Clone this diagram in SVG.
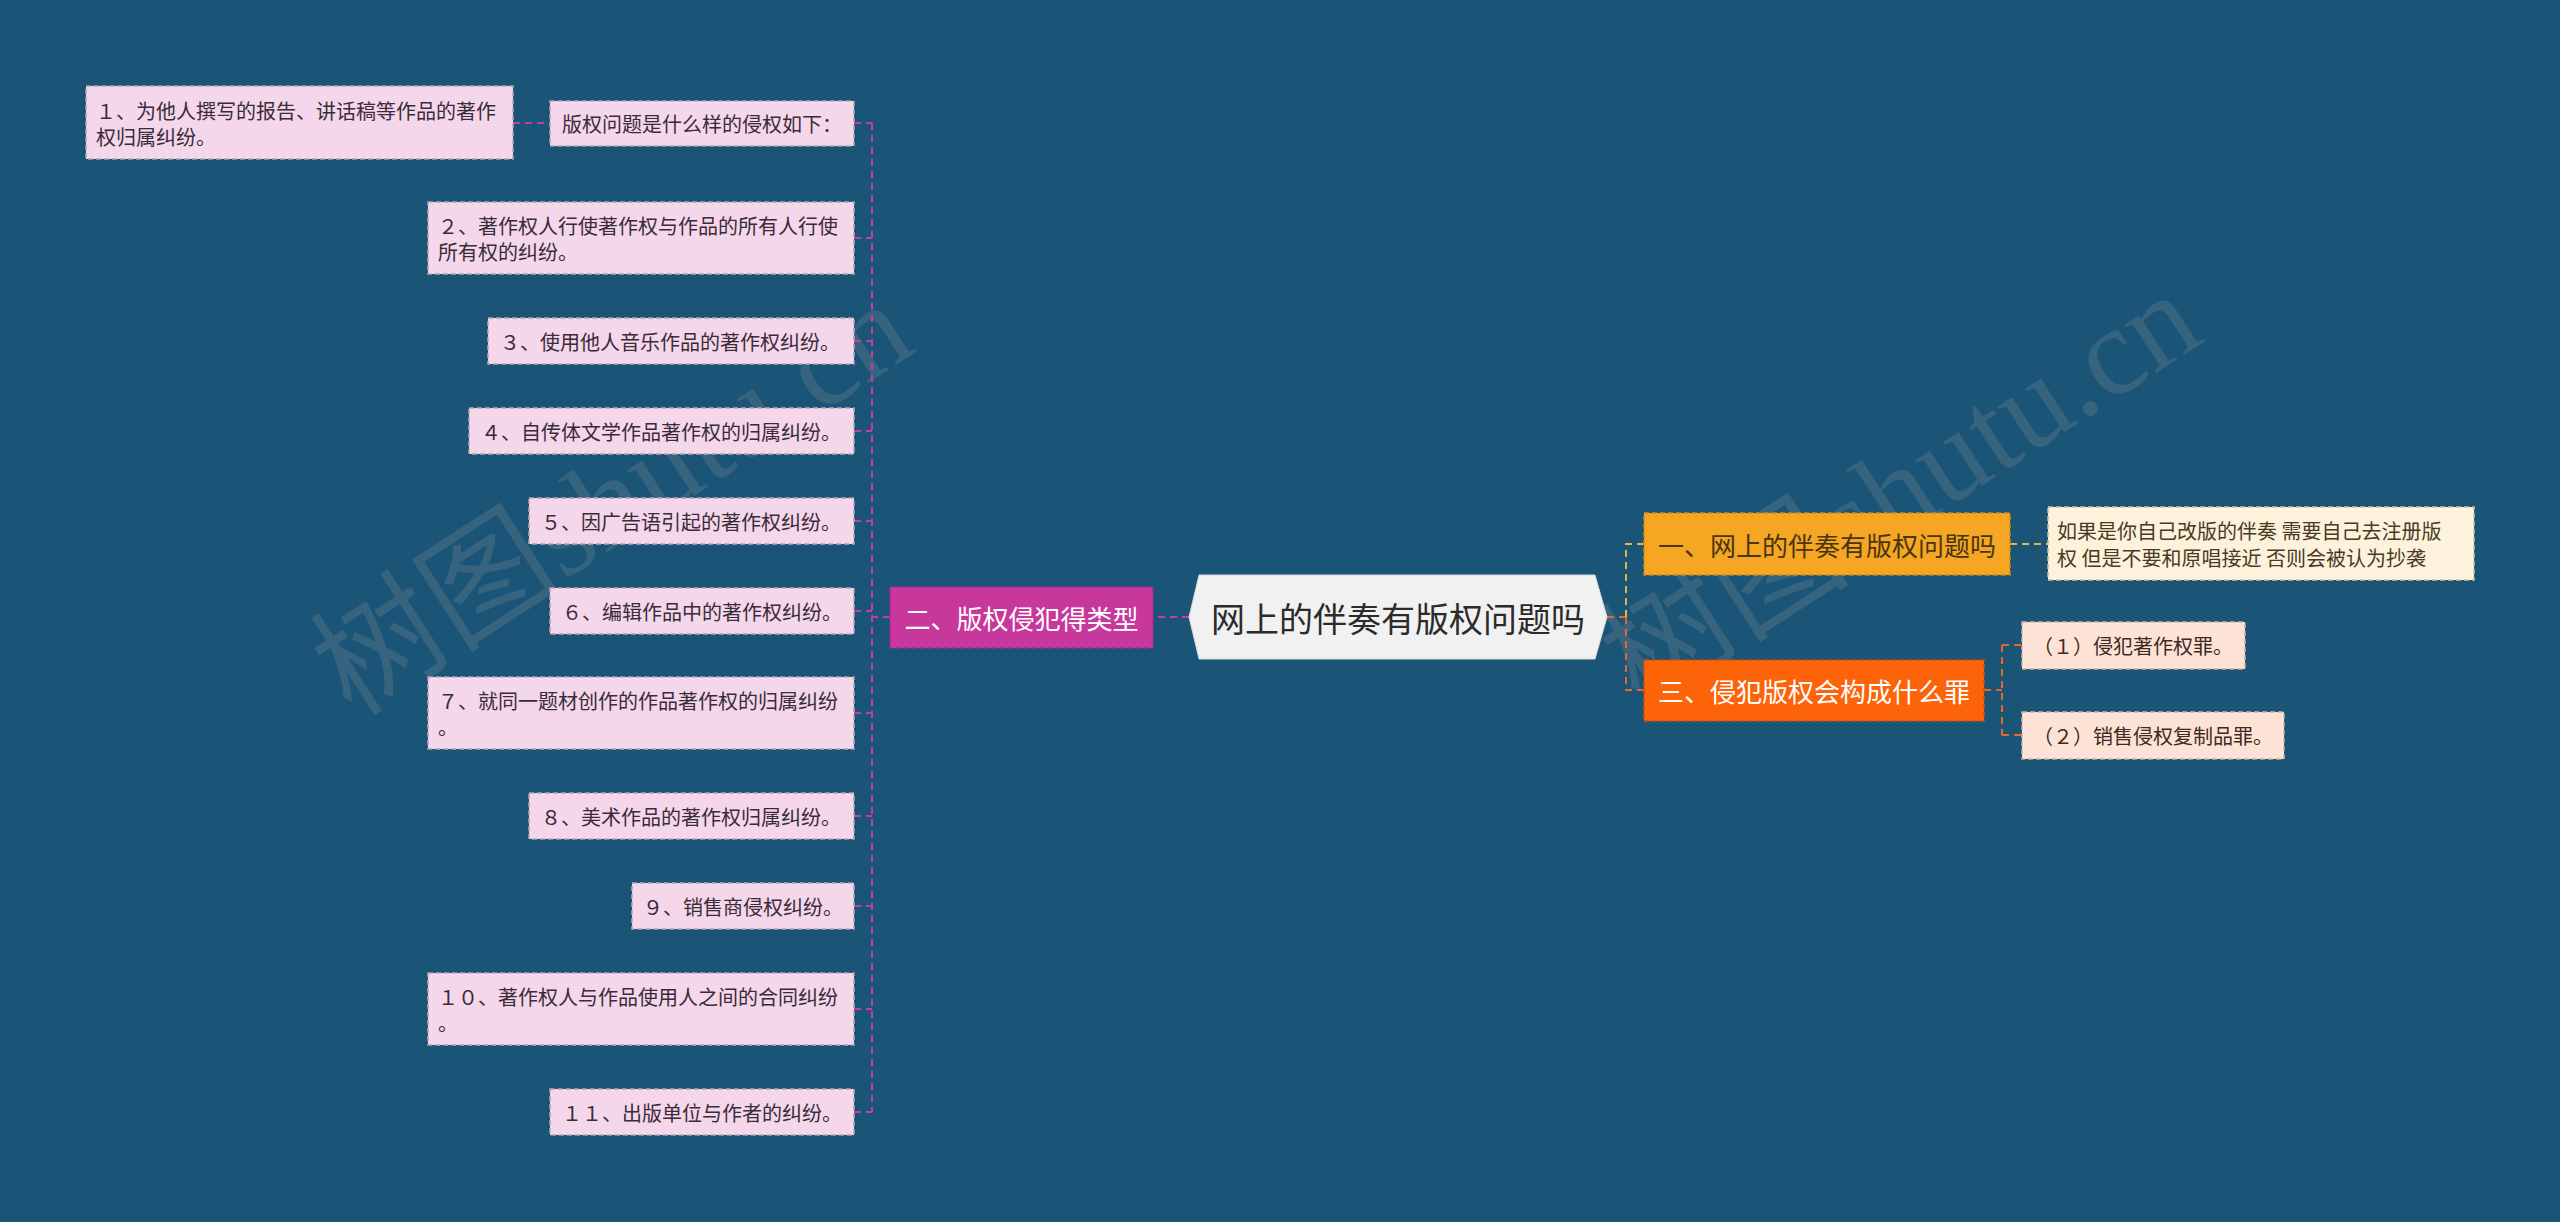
<svg xmlns="http://www.w3.org/2000/svg" width="2560" height="1222" viewBox="0 0 2560 1222">
<style>
text{font-family:"Noto Sans CJK SC","Noto Sans",sans-serif;dominant-baseline:central}
.leaf{fill:#f4d7ea;stroke:#b9a2b6;stroke-width:1.5;stroke-dasharray:5 3}
.lt{font-size:20px;fill:#3a2b38}
.cm{fill:none;stroke:#c63d9c;stroke-width:2;stroke-dasharray:7 5}
.cy{fill:none;stroke:#e0b542;stroke-width:2;stroke-dasharray:7 5}
.co{fill:none;stroke:#e2692d;stroke-width:2;stroke-dasharray:7 5}
.wm{font-family:"Liberation Serif",serif;font-size:126px;fill:#9a9a9a;opacity:0.22;dominant-baseline:alphabetic}
</style>
<rect width="2560" height="1222" fill="#1a5477"/>
<text class="wm" transform="translate(352,718) rotate(-33)"><tspan style="font-family:'Noto Sans CJK SC',serif">树图</tspan>shutu.cn</text>
<text class="wm" transform="translate(1640,708) rotate(-33)"><tspan style="font-family:'Noto Sans CJK SC',serif">树图</tspan>shutu.cn</text>
<g id="connectors">
<path class="cm" d="M1189 617H1153M890 617H872M872 123V1112M854 123H872M513 123H550M854 238H872M854 341H872M854 431H872M854 521H872M854 611H872M854 713H872M854 816H872M854 906H872M854 1009H872M854 1112H872"/>
<path class="co" d="M1607 617H1626M1626 617V690H1644"/>
<path class="cy" d="M1626 617V544H1644M2010 544H2049"/>
<path class="co" d="M1984 690H2002M2002 645V735M2002 645H2023M2002 735H2023"/>
</g>
<g id="center">
<polygon points="1189,617 1199,575 1595,575 1607,617 1595,659 1199,659" fill="#f1f1f1" stroke="#d8d8d8" stroke-width="1"/>
<text x="1398" y="617" text-anchor="middle" font-size="34" fill="#2b2b2b">网上的伴奏有版权问题吗</text>
</g>
<g id="b2">
<rect x="890" y="587" width="263" height="61" fill="#c8389c" stroke="#a82a82" stroke-width="1.5" stroke-dasharray="5 3"/>
<text x="1021.5" y="617" text-anchor="middle" font-size="26" fill="#ffffff">二、版权侵犯得类型</text>
</g>
<g id="n0"><rect class="leaf" x="550" y="101" width="304" height="45"/><text class="lt" x="562" y="123">版权问题是什么样的侵权如下：</text></g>
<g id="n1"><rect class="leaf" x="86" y="86" width="427" height="73"/><text class="lt" x="96" y="110">１、为他人撰写的报告、讲话稿等作品的著作</text><text class="lt" x="96" y="136">权归属纠纷。</text></g>
<g id="n2"><rect class="leaf" x="428" y="202" width="426" height="72"/><text class="lt" x="438" y="225">２、著作权人行使著作权与作品的所有人行使</text><text class="lt" x="438" y="251">所有权的纠纷。</text></g>
<g id="n3"><rect class="leaf" x="488" y="318" width="366" height="46"/><text class="lt" x="500" y="341">３、使用他人音乐作品的著作权纠纷。</text></g>
<g id="n4"><rect class="leaf" x="469" y="408" width="385" height="46"/><text class="lt" x="481" y="431">４、自传体文学作品著作权的归属纠纷。</text></g>
<g id="n5"><rect class="leaf" x="529" y="498" width="325" height="46"/><text class="lt" x="541" y="521">５、因广告语引起的著作权纠纷。</text></g>
<g id="n6"><rect class="leaf" x="550" y="588" width="304" height="46"/><text class="lt" x="562" y="611">６、编辑作品中的著作权纠纷。</text></g>
<g id="n7"><rect class="leaf" x="428" y="677" width="426" height="72"/><text class="lt" x="438" y="700">７、就同一题材创作的作品著作权的归属纠纷</text><text class="lt" x="438" y="726">。</text></g>
<g id="n8"><rect class="leaf" x="529" y="793" width="325" height="46"/><text class="lt" x="541" y="816">８、美术作品的著作权归属纠纷。</text></g>
<g id="n9"><rect class="leaf" x="632" y="883" width="222" height="46"/><text class="lt" x="643" y="906">９、销售商侵权纠纷。</text></g>
<g id="n10"><rect class="leaf" x="428" y="973" width="426" height="72"/><text class="lt" x="438" y="996">１０、著作权人与作品使用人之间的合同纠纷</text><text class="lt" x="438" y="1022">。</text></g>
<g id="n11"><rect class="leaf" x="550" y="1089" width="304" height="46"/><text class="lt" x="562" y="1112">１１、出版单位与作者的纠纷。</text></g>
<g id="b1">
<rect x="1644" y="513" width="366" height="62" fill="#f5a623" stroke="#c98a1a" stroke-width="1.5" stroke-dasharray="5 3"/>
<text x="1658" y="544" font-size="26" fill="#4a3510">一、网上的伴奏有版权问题吗</text>
</g>
<g id="r1">
<rect x="2048" y="507" width="426" height="73" fill="#fdf2dc" stroke="#cdbf9f" stroke-width="1.5" stroke-dasharray="5 3"/>
<text x="2057" y="530" font-size="20" fill="#4a3a22">如果是你自己改版的伴奏 需要自己去注册版</text>
<text x="2057" y="557" font-size="20" fill="#4a3a22">权 但是不要和原唱接近 否则会被认为抄袭</text>
</g>
<g id="b3">
<rect x="1644" y="660" width="340" height="61" fill="#fd6309" stroke="#d24f05" stroke-width="1.5" stroke-dasharray="5 3"/>
<text x="1658" y="690" font-size="26" fill="#ffffff">三、侵犯版权会构成什么罪</text>
</g>
<g id="r31"><rect x="2022" y="622" width="223" height="47" fill="#fde3d6" stroke="#cdb1a3" stroke-width="1.5" stroke-dasharray="5 3"/><text x="2033" y="645" font-size="20" fill="#3e2a22">（１）侵犯著作权罪。</text></g>
<g id="r32"><rect x="2022" y="712" width="262" height="47" fill="#fde3d6" stroke="#cdb1a3" stroke-width="1.5" stroke-dasharray="5 3"/><text x="2033" y="735" font-size="20" fill="#3e2a22">（２）销售侵权复制品罪。</text></g>
</svg>
